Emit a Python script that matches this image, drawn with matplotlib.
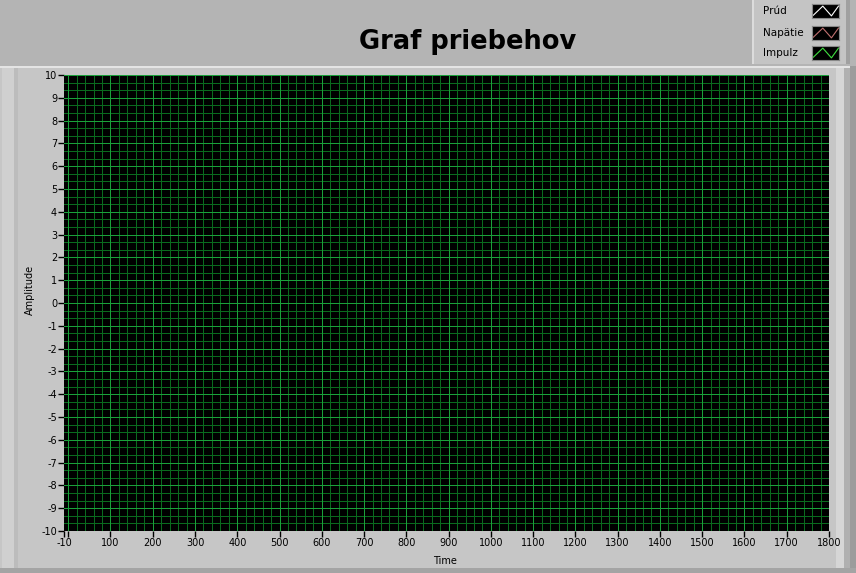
import numpy as np
import matplotlib.pyplot as plt
from matplotlib.patches import Rectangle

# graf je prazdny - ziadne namerane priebehy
time = []
prud = []
napatie = []
impulz = []

series_names = ["Prúd", "Napätie", "Impulz"]
series_colors = ["#ffffff", "#c07070", "#40e040"]

x_ticks = [-10, 0, 100, 200, 300, 400, 500, 600, 700, 800, 900, 1000,
           1100, 1200, 1300, 1400, 1500, 1600, 1700, 1800]
x_labels = ["-10", "", "100", "200", "300", "400", "500", "600", "700", "800",
            "900", "1000", "1100", "1200", "1300", "1400", "1500", "1600",
            "1700", "1800"]
y_ticks = [-10, -9, -8, -7, -6, -5, -4, -3, -2, -1, 0, 1, 2, 3, 4, 5, 6, 7, 8, 9, 10]

W, H = 856, 573
MINOR_GRID = "#0a6a1e"
MAJOR_GRID = "#1aa03a"


def box(x, y, w, h):
    return [x / W, 1 - (y + h) / H, w / W, h / H]


def rect(x, y, w, h, color):
    b = box(x, y, w, h)
    fig.add_artist(Rectangle((b[0], b[1]), b[2], b[3], transform=fig.transFigure,
                             facecolor=color, edgecolor="none", zorder=0))


fig = plt.figure(figsize=(W / 100, H / 100), dpi=100)
fig.patch.set_facecolor("#b4b4b4")

# panel okolo grafu
rect(0, 66, 856, 507, "#c6c6c6")
rect(0, 66, 856, 2, "#e4e4e4")
rect(2, 68, 12, 500, "#d0d0d0")
rect(14, 68, 4, 500, "#bcbcbc")
rect(836, 68, 8, 500, "#d6d6d6")
rect(844, 68, 6, 500, "#b0b0b0")
rect(850, 66, 6, 507, "#9c9c9c")
rect(0, 568, 856, 5, "#a4a4a4")

# legenda
rect(752, 0, 96, 64, "#c4c4c4")
rect(752, 0, 2, 64, "#dcdcdc")
rect(846, 0, 4, 64, "#a0a0a0")

ax = fig.add_axes(box(64, 75, 765, 456))
ax.set_facecolor("black")
ax.set_xlim(-10, 1800)
ax.set_ylim(-10, 10)

# mriezka - vedlajsie a hlavne ciary
x_minor = np.arange(0, 1801, 20)
y_minor = np.linspace(-10, 10, 61)
x_major = np.arange(0, 1801, 100)
y_major = np.arange(-10, 11, 1)
ax.vlines(x_minor, -10, 10, colors=MINOR_GRID, linewidth=0.72, antialiased=False, zorder=1)
ax.hlines(y_minor, -10, 1800, colors=MINOR_GRID, linewidth=0.72, antialiased=False, zorder=1)
ax.vlines(x_major, -10, 10, colors=MAJOR_GRID, linewidth=0.72, antialiased=False, zorder=2)
ax.hlines(y_major, -10, 1800, colors=MAJOR_GRID, linewidth=0.72, antialiased=False, zorder=2)

ax.plot(time, prud, color=series_colors[0], zorder=3)
ax.plot(time, napatie, color=series_colors[1], zorder=3)
ax.plot(time, impulz, color=series_colors[2], zorder=3)
ax.set_xlim(-10, 1800)
ax.set_ylim(-10, 10)

ax.set_xticks(x_ticks)
ax.set_xticklabels(x_labels)
ax.set_yticks(y_ticks)
ax.set_yticklabels([str(v) for v in y_ticks])
ax.tick_params(which="major", direction="out", length=4, width=1, color="black",
               labelsize=7, pad=1, labelcolor="black")
for s in ax.spines.values():
    s.set_visible(False)

fig.text(468 / W, 1 - 42 / H, "Graf priebehov", fontsize=18.5, fontweight="bold",
         ha="center", va="center")
fig.text(445 / W, 1 - 561 / H, "Time", fontsize=7, ha="center", va="center")
fig.text(30 / W, 1 - 290 / H, "Amplitude", fontsize=7, rotation=90,
         ha="center", va="center")

legend_y = [4, 26, 46]
for name, color, y in zip(series_names, series_colors, legend_y):
    fig.text(763 / W, 1 - (y + 7) / H, name, fontsize=7.5, ha="left", va="center")
    lax = fig.add_axes(box(812, y, 27, 14))
    lax.set_facecolor("black")
    lax.plot([0.05, 0.4, 0.72, 0.98], [0.2, 0.85, 0.15, 0.85], color=color, lw=0.8)
    lax.set_xlim(0, 1)
    lax.set_ylim(0, 1)
    lax.set_xticks([])
    lax.set_yticks([])
    for s in lax.spines.values():
        s.set_color("#888888")

fig.savefig("out.png", dpi=100, facecolor=fig.get_facecolor())
